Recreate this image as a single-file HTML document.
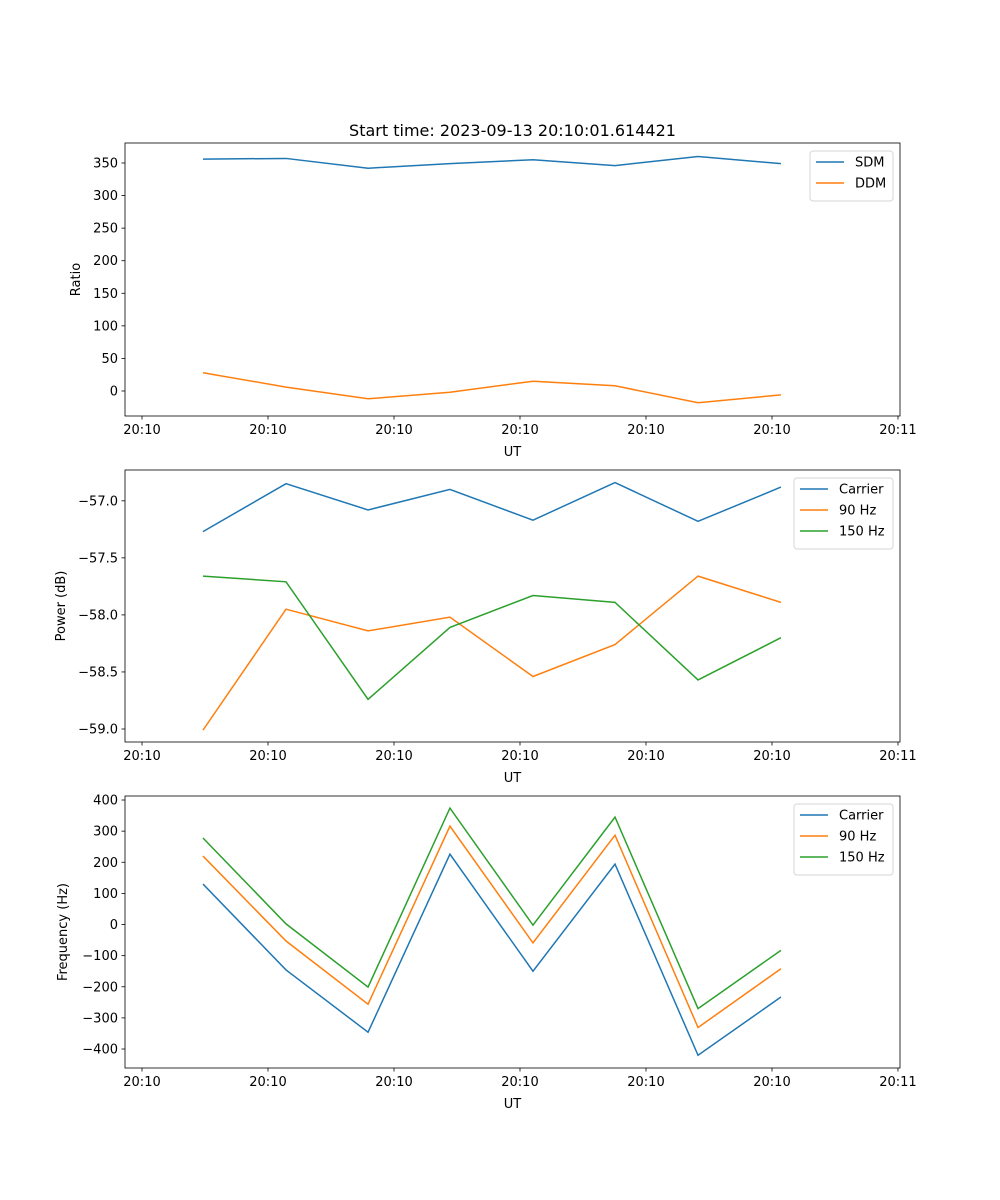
<!DOCTYPE html>
<html><head><meta charset="utf-8"><style>
html,body{margin:0;padding:0;background:#fff;}
svg{display:block;font-family:"DejaVu Sans","Liberation Sans",sans-serif;}
</style></head><body>
<svg id="fig" width="1000" height="1200" viewBox="0 0 1000 1200" xmlns="http://www.w3.org/2000/svg">
<rect width="1000" height="1200" fill="#fff"/>
<text x="512.5" y="136" text-anchor="middle" font-size="16">Start time: 2023-09-13 20:10:01.614421</text>
</svg>
<script>
const xTimes = [0.484, 1.143, 1.794, 2.444, 3.103, 3.754, 4.413, 5.071];
const xTickLabels = ["20:10","20:10","20:10","20:10","20:10","20:10","20:11"];
const sdm = [356, 357, 342, 349, 355, 346, 360, 349];
const ddm = [28, 6, -12, -2, 15, 8, -18, -6];
const pCarrier = [-57.27, -56.85, -57.08, -56.90, -57.17, -56.84, -57.18, -56.88];
const p90 = [-59.01, -57.95, -58.14, -58.02, -58.54, -58.26, -57.66, -57.89];
const p150 = [-57.66, -57.71, -58.74, -58.11, -57.83, -57.89, -58.57, -58.20];
const fCarrier = [130, -146, -346, 226, -150, 194, -420, -233];
const f90 = [220, -53, -256, 316, -59, 287, -331, -142];
const f150 = [278, 2, -201, 374, -2, 345, -270, -83];
const ticks1 = [0,50,100,150,200,250,300,350];
const ticks2 = [-59.0,-58.5,-58.0,-57.5,-57.0];
const ticks3 = [-400,-300,-200,-100,0,100,200,300,400];

const NS="http://www.w3.org/2000/svg";
const svg=document.getElementById('fig');
function mk(tag,attrs,parent){const e=document.createElementNS(NS,tag);for(const k in attrs)e.setAttribute(k,attrs[k]);(parent||svg).appendChild(e);return e;}
const X0=125,X1=900,xmin=-0.135,xmax=6.016;
const sx=v=>X0+(v-xmin)/(xmax-xmin)*(X1-X0);
const C=['#1f77b4','#ff7f0e','#2ca02c'];
function fmt(v,dec){return (v<0?'\u2212':'')+Math.abs(v).toFixed(dec);}
function panel(name,top,bot,ymin,ymax,yticks,dec,ylabel,yx,series,labels,legendW){
  const g=mk('g',{});
  
  
  const sy=v=>bot-(v-ymin)/(ymax-ymin)*(bot-top);
  series.forEach((s,i)=>{
    const pl=mk('polyline',{points:s.map((v,j)=>sx(xTimes[j])+','+sy(v)).join(' '),fill:'none',stroke:C[i],'stroke-width':1.5},g);
    
    
  });
  mk('rect',{x:X0,y:top,width:X1-X0,height:bot-top,fill:'none',stroke:'#000','stroke-width':0.8},g);
  xTickLabels.forEach((l,i)=>{
    const x=sx(i);
    mk('line',{x1:x,x2:x,y1:bot,y2:bot+3.5,stroke:'#000','stroke-width':0.8},g);
    const t=mk('text',{x:x,y:bot+18,'text-anchor':'middle','font-size':13},g);t.textContent=l;
    
    
  });
  const xl=mk('text',{x:(X0+X1)/2,y:bot+40,'text-anchor':'middle','font-size':13},g);xl.textContent='UT';
  
  
  yticks.forEach(v=>{
    const y=sy(v);
    mk('line',{x1:X0-3.5,x2:X0,y1:y,y2:y,stroke:'#000','stroke-width':0.8},g);
    const t=mk('text',{x:X0-7,y:y+4.5,'text-anchor':'end','font-size':13},g);t.textContent=fmt(v,dec);
    
    
  });
  const yl=mk('text',{x:yx,y:(top+bot)/2,'text-anchor':'middle','font-size':13,transform:`rotate(-90 ${yx} ${(top+bot)/2})`},g);yl.textContent=ylabel;
  
  
  const lg=mk('g',{},g);
  
  
  const lx=X1-7-legendW,ly=top+8;
  mk('rect',{x:lx,y:ly,width:legendW,height:8+labels.length*21,rx:3,fill:'#fff',stroke:'#ccc','stroke-width':1,opacity:0.8},lg);
  labels.forEach((l,i)=>{
    const yy=ly+11+i*21;
    const e=mk('line',{x1:lx+6,x2:lx+34,y1:yy,y2:yy,stroke:C[i],'stroke-width':1.5},lg);
    
    
    const t=mk('text',{x:lx+45,y:yy+4.5,'font-size':13},lg);t.textContent=l;
    
    
  });
}
panel('ratio-panel',143,416,-38.4,380.7,ticks1,0,'Ratio',80,[sdm,ddm],['SDM','DDM'],83);
panel('power-panel',470,742,-59.114,-56.73,ticks2,1,'Power (dB)',65,[pCarrier,p90,p150],['Carrier','90 Hz','150 Hz'],99);
panel('frequency-panel',796,1068,-461,412.9,ticks3,0,'Frequency (Hz)',67,[fCarrier,f90,f150],['Carrier','90 Hz','150 Hz'],99);
</script>
</body></html>
